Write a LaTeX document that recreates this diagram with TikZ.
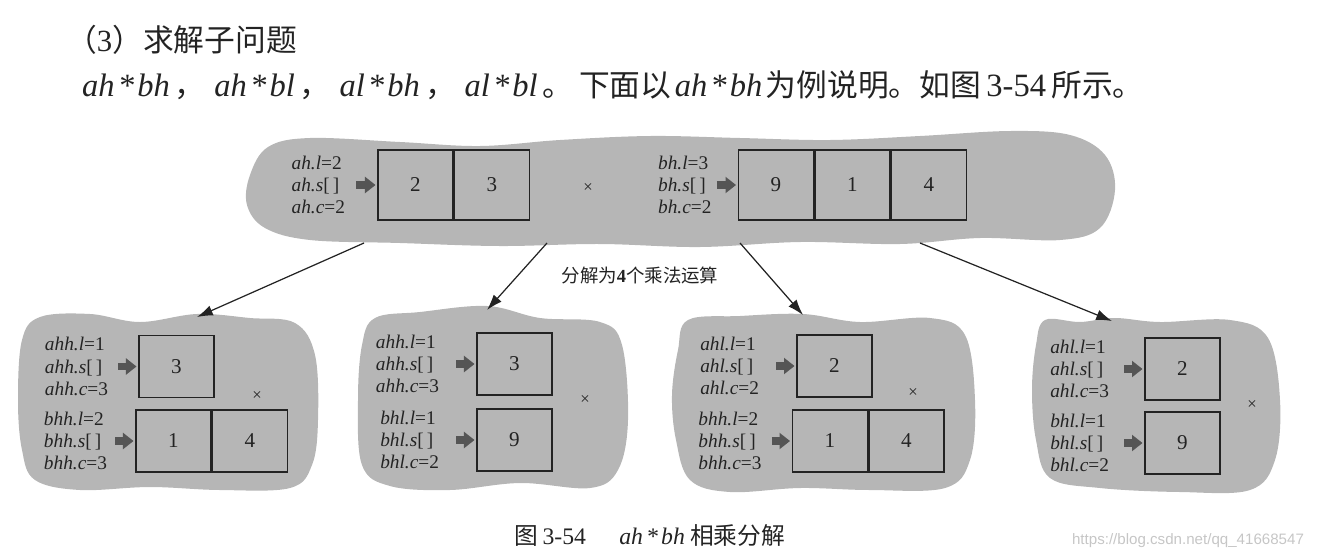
\documentclass[tikz,border=0pt]{standalone}
\usepackage{fontspec}
\setmainfont{Liberation Serif}
\newfontfamily\cjk{Noto Sans CJK SC}
\newfontfamily\urlfont{Liberation Sans}
\usetikzlibrary{arrows.meta,positioning}
\definecolor{blobgray}{RGB}{182,182,182}
\definecolor{inkgray}{RGB}{85,85,85}
\definecolor{txt}{RGB}{35,35,35}
\newcommand{\prodtxt}[2]{\textit{#1\kern1.8pt*\kern1.8pt#2}}
\tikzset{
  blob/.style={fill=blobgray},
  cell/.style={draw=txt, line width=0.8pt, minimum width=1.5cm, minimum height=1.4cm, inner sep=0pt, font=\fontsize{12}{12}\selectfont},
  cellsm/.style={cell, minimum height=1.24cm},
  vars/.style={align=left, inner sep=0pt, font=\fontsize{11}{12.6}\selectfont},
  fatarr/.style={-{Triangle[length=6pt,width=9pt]}, line width=4pt, inkgray, shorten >=1pt},
  split/.style={-{Latex[length=9pt,width=6pt]}, line width=0.7pt, txt},
  mul/.style={font=\fontsize{9.5}{9.5}\selectfont},
}

\begin{document}
\begin{tikzpicture}[x=0.2mm, y=-0.2mm, text=txt]
  \useasboundingbox (0,0) rectangle (1319,559);

  %% heading text
  \node[anchor=west, font=\fontsize{17.5}{20}\selectfont] (head) at (60,40) {{\cjk （}3{\cjk ）求解子问题}};
  \node[anchor=west, font=\fontsize{17.5}{20}\selectfont] (intro) at (76,85) {{\fontsize{18.5}{20}\selectfont\prodtxt{ah}{bh}}\,{\cjk ，}\hspace{5pt}{\fontsize{18.5}{20}\selectfont\prodtxt{ah}{bl}}\,{\cjk ，}\hspace{5pt}{\fontsize{18.5}{20}\selectfont\prodtxt{al}{bh}}\,{\cjk ，}\hspace{5pt}{\fontsize{18.5}{20}\selectfont\prodtxt{al}{bl}}\hspace{3pt}{\cjk 。}\hspace{3pt}{\cjk 下面以}\hspace{2pt}{\fontsize{18.5}{20}\selectfont\prodtxt{ah}{bh}}\hspace{2pt}{\cjk 为例说明。如图}\hspace{3pt}{\fontsize{18.5}{20}\selectfont 3-54}\hspace{3pt}{\cjk 所示。}};

  %% blobs
  \fill[blob] plot[smooth cycle, tension=0.6] coordinates {(250,175) (268,147) (310,138) (400,142) (480,146) (560,140) (650,136) (740,138) (830,140) (920,136) (1010,131) (1070,135) (1105,155) (1115,190) (1100,228) (1060,240) (980,238) (900,244) (800,242) (700,247) (600,244) (500,246) (400,243) (310,240) (265,228) (247,205)};
  \fill[blob] plot[smooth cycle, tension=0.6] coordinates {(22,340) (40,317) (90,314) (140,322) (197,314) (250,318) (295,323) (315,355) (318,420) (312,465) (290,488) (220,490) (150,487) (80,490) (35,480) (22,450) (18,400)};
  \fill[blob] plot[smooth cycle, tension=0.6] coordinates {(362,345) (375,318) (420,312) (487,306) (540,318) (600,322) (622,345) (628,420) (618,470) (590,488) (520,483) (450,490) (390,486) (362,465) (358,400)};
  \fill[blob] plot[smooth cycle, tension=0.6] coordinates {(678,350) (688,320) (740,316) (803,314) (860,322) (930,318) (965,335) (975,400) (970,460) (945,488) (870,490) (800,488) (730,492) (690,480) (676,440) (672,395)};
  \fill[blob] plot[smooth cycle, tension=0.6] coordinates {(1036,345) (1045,320) (1080,322) (1115,318) (1160,322) (1230,320) (1268,338) (1280,400) (1275,460) (1250,490) (1180,492) (1100,488) (1050,478) (1036,440) (1032,390)};

  %% top: ah x bh
  \node[cell] (a1) at (415.5,185) {2};
  \node[cell, right=0pt of a1] (a2) {3};
  \node[vars, left=0.64cm of a1] (avars) {\textit{ah.l}=2\\\textit{ah.s}[\,]\\\textit{ah.c}=2};
  \draw[fatarr] ([xshift=-0.42cm]a1.west) -- (a1.west);
  \node[mul] (mul0) at (588,188) {×};
  \node[cell] (b1) at (776,185) {9};
  \node[cell, right=0pt of b1] (b2) {1};
  \node[cell, right=0pt of b2] (b3) {4};
  \node[vars, left=0.52cm of b1] (bvars) {\textit{bh.l}=3\\\textit{bh.s}[\,]\\\textit{bh.c}=2};
  \draw[fatarr] ([xshift=-0.42cm]b1.west) -- (b1.west);

  %% split arrows
  \coordinate (s1) at (364,243);
  \coordinate (s2) at (547,243);
  \coordinate (s3) at (740,243);
  \coordinate (s4) at (920,243);
  \coordinate (t1) at (197,317);
  \coordinate (t2) at (487,310);
  \coordinate (t3) at (803,315);
  \coordinate (t4) at (1112,321);
  \foreach \i in {1,...,4} \draw[split] (s\i) -- (t\i);
  \node[font=\fontsize{10.5}{12}\selectfont] (splitlbl) at (640,275) {{\cjk 分解为}\textbf{4}{\cjk 个乘法运算}};

  %% ahh x bhh
  \node[cellsm] (p1a) at (176.5,366.5) {3};
  \node[cellsm] (p1b) at (173.5,441) {1};
  \node[cellsm, right=0pt of p1b] (p1c) {4};
  \node[vars, left=0.6cm of p1a] (p1va) {\textit{ahh.l}=1\\\textit{ahh.s}[\,]\\\textit{ahh.c}=3};
  \node[vars, left=0.56cm of p1b] (p1vb) {\textit{bhh.l}=2\\\textit{bhh.s}[\,]\\\textit{bhh.c}=3};
  \draw[fatarr] ([xshift=-0.4cm]p1a.west) -- (p1a.west);
  \draw[fatarr] ([xshift=-0.4cm]p1b.west) -- (p1b.west);
  \node[mul] (mul1) at (257,396) {×};

  %% ahh x bhl
  \node[cellsm] (p2a) at (514.5,364) {3};
  \node[cellsm] (p2b) at (514.5,440) {9};
  \node[vars, left=0.74cm of p2a] (p2va) {\textit{ahh.l}=1\\\textit{ahh.s}[\,]\\\textit{ahh.c}=3};
  \node[vars, left=0.74cm of p2b] (p2vb) {\textit{bhl.l}=1\\\textit{bhl.s}[\,]\\\textit{bhl.c}=2};
  \draw[fatarr] ([xshift=-0.4cm]p2a.west) -- (p2a.west);
  \draw[fatarr] ([xshift=-0.4cm]p2b.west) -- (p2b.west);
  \node[mul] (mul2) at (585,400) {×};

  %% ahl x bhh
  \node[cellsm] (p3a) at (834.5,366) {2};
  \node[cellsm] (p3b) at (830,441) {1};
  \node[cellsm, right=0pt of p3b] (p3c) {4};
  \node[vars, left=0.74cm of p3a] (p3va) {\textit{ahl.l}=1\\\textit{ahl.s}[\,]\\\textit{ahl.c}=2};
  \node[vars, left=0.6cm of p3b] (p3vb) {\textit{bhh.l}=2\\\textit{bhh.s}[\,]\\\textit{bhh.c}=3};
  \draw[fatarr] ([xshift=-0.4cm]p3a.west) -- (p3a.west);
  \draw[fatarr] ([xshift=-0.4cm]p3b.west) -- (p3b.west);
  \node[mul] (mul3) at (913,393) {×};

  %% ahl x bhl
  \node[cellsm] (p4a) at (1182.5,369) {2};
  \node[cellsm] (p4b) at (1182.5,443) {9};
  \node[vars, left=0.7cm of p4a] (p4va) {\textit{ahl.l}=1\\\textit{ahl.s}[\,]\\\textit{ahl.c}=3};
  \node[vars, left=0.7cm of p4b] (p4vb) {\textit{bhl.l}=1\\\textit{bhl.s}[\,]\\\textit{bhl.c}=2};
  \draw[fatarr] ([xshift=-0.4cm]p4a.west) -- (p4a.west);
  \draw[fatarr] ([xshift=-0.4cm]p4b.west) -- (p4b.west);
  \node[mul] (mul4) at (1252,405) {×};

  %% caption and url
  \node[font=\fontsize{13.5}{15}\selectfont] (caption) at (650,535) {{\cjk 图}\,3-54\hspace{1.4em}\prodtxt{ah}{bh}\hspace{3pt}{\cjk 相乘分解}};
  \node[font=\urlfont\fontsize{8.6}{10}\selectfont, text=gray!45] (url) at (1188,541) {https://blog.csdn.net/qq\_41668547};
\end{tikzpicture}
\end{document}
